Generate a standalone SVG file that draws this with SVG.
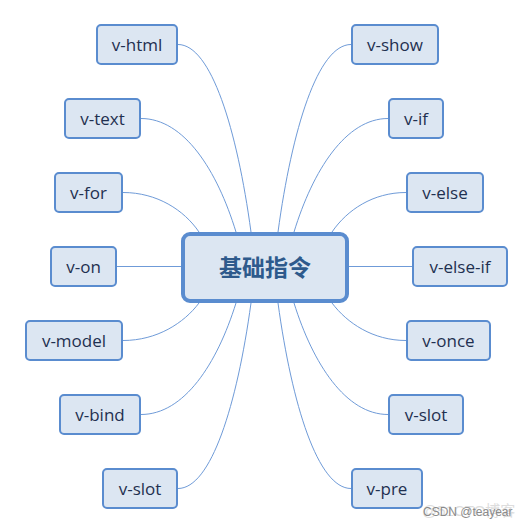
<svg xmlns="http://www.w3.org/2000/svg" width="528" height="529" viewBox="0 0 528 529">
<style>
.n rect{fill:#dce6f2;stroke:#5a8ccf;stroke-width:2}
.n text{font-family:"Open Sans","Liberation Sans",sans-serif;font-size:17px;fill:#1f3050;text-anchor:middle}
#connectors path{fill:none;stroke:#6f9bd8;stroke-width:1}
.wm{font-family:"Liberation Sans","Noto Sans CJK SC",sans-serif}
</style>
<rect width="528" height="529" fill="#ffffff"/>
<g id="connectors">
<path d="M178 44.5 C211 44.5 237 129 251 232"/>
<path d="M141 118.5 C184 118.5 217 170 236 232"/>
<path d="M123 192.5 C157 192.5 184 210 199 232"/>
<path d="M117 266.5 H182"/>
<path d="M123 340.5 C157 340.5 184 323 199 303"/>
<path d="M141 414.5 C184 414.5 217 364 236 303"/>
<path d="M178 488.5 C211 488.5 237 405 251 303"/>
<path d="M351 44.5 C318 44.5 292 129 278 232"/>
<path d="M388 118.5 C346 118.5 313 170 294 232"/>
<path d="M406 192.5 C373 192.5 347 210 332 232"/>
<path d="M349 266.5 H412"/>
<path d="M406 340.5 C373 340.5 347 323 332 303"/>
<path d="M388 414.5 C346 414.5 313 364 294 303"/>
<path d="M351 488.5 C318 488.5 292 405 278 303"/>
</g>
<g id="center">
<rect x="183" y="234" width="164" height="67" rx="7" fill="#dce6f2" stroke="#5a8ccf" stroke-width="4"/>
<text x="265" y="276" font-family="'Noto Sans CJK SC','Liberation Sans',sans-serif" font-size="23" font-weight="bold" fill="#2e5a8c" text-anchor="middle">基础指令</text>
</g>
<g id="n-html" class="n"><rect x="97" y="25" width="80" height="39" rx="4"/><text x="137" y="51">v-html</text></g>
<g id="n-text" class="n"><rect x="65" y="99" width="75" height="39" rx="4"/><text x="102.5" y="125">v-text</text></g>
<g id="n-for" class="n"><rect x="55" y="173" width="67" height="39" rx="4"/><text x="88.5" y="199">v-for</text></g>
<g id="n-on" class="n"><rect x="51" y="247" width="65" height="39" rx="4"/><text x="83.5" y="273">v-on</text></g>
<g id="n-model" class="n"><rect x="26" y="321" width="96" height="39" rx="4"/><text x="74" y="347">v-model</text></g>
<g id="n-bind" class="n"><rect x="60" y="395" width="80" height="39" rx="4"/><text x="100" y="421">v-bind</text></g>
<g id="n-slot1" class="n"><rect x="103" y="469" width="74" height="39" rx="4"/><text x="140" y="495">v-slot</text></g>
<g id="n-show" class="n"><rect x="352" y="25" width="86" height="39" rx="4"/><text x="395" y="51">v-show</text></g>
<g id="n-if" class="n"><rect x="389" y="99" width="54" height="39" rx="4"/><text x="416" y="125">v-if</text></g>
<g id="n-else" class="n"><rect x="407" y="173" width="76" height="39" rx="4"/><text x="445" y="199">v-else</text></g>
<g id="n-elseif" class="n"><rect x="413" y="247" width="94" height="39" rx="4"/><text x="460" y="273">v-else-if</text></g>
<g id="n-once" class="n"><rect x="407" y="321" width="83" height="39" rx="4"/><text x="448.5" y="347">v-once</text></g>
<g id="n-slot2" class="n"><rect x="389" y="395" width="74" height="39" rx="4"/><text x="426" y="421">v-slot</text></g>
<g id="n-pre" class="n"><rect x="352" y="469" width="70" height="39" rx="4"/><text x="387" y="495">v-pre</text></g>
<text class="wm" x="422" y="516" font-size="15" fill="#dddddd">@51CTO博客</text>
<text class="wm" x="423" y="516" font-size="12" fill="#8a8a8a">CSDN @teayear</text>
</svg>
